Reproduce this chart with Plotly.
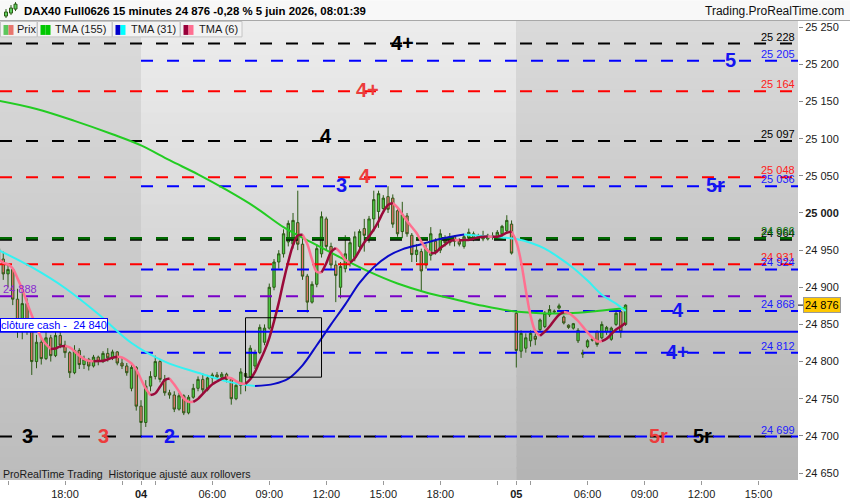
import pandas as pd
import plotly.graph_objects as go

# DAX40 Full0626, 15 minute bars. x = bar number:
# 0 = 3 June 14:30, 30 = 4 June 02:15 (first bar), 109 = 5 June 02:15
bar_open = [24952, 24938, 24918, 24924, 24884, 24846, 24878, 24842, 24800, 24826,
            24804, 24832, 24808, 24835, 24822, 24812, 24785, 24815, 24796, 24803,
            24794, 24806, 24800, 24811, 24805, 24813, 24798, 24794, 24764, 24792,
            24740, 24718, 24767, 24780, 24800, 24776, 24758, 24755, 24736, 24754,
            24731, 24752, 24764, 24776, 24762, 24778, 24782, 24779, 24783, 24776,
            24750, 24768, 24784, 24780, 24794, 24812, 24826, 24845, 24900, 24934,
            24945, 24961, 24958, 24987, 24958, 24915, 24880, 24904, 24945, 24992,
            24955, 24930, 24900, 24925, 24932, 24940, 24955, 24979, 24965, 24992,
            25002, 25006, 25022, 25020, 25003, 24975, 24996, 24970, 24944, 24948,
            24930, 24943, 24962, 24950, 24966, 24960, 24968, 24962, 24955, 24966,
            24972, 24966, 24968, 24965, 24969, 24967, 24972, 24976, 24985, 24865,
            24814, 24818, 24828, 24834, 24843, 24847, 24863, 24868, 24872, 24860,
            24849, 24845, 24828, 24812, 24820, 24830, 24840, 24832, 24840, 24830,
            24850, 24867, 24850]
bar_high = [24960, 24948, 24930, 24926, 24898, 24902, 24885, 24845, 24836, 24831,
            24840, 24836, 24840, 24840, 24828, 24814, 24822, 24818, 24808, 24805,
            24809, 24808, 24814, 24818, 24816, 24814, 24805, 24798, 24796, 24794,
            24748, 24775, 24787, 24808, 24802, 24782, 24762, 24760, 24758, 24756,
            24755, 24770, 24780, 24784, 24782, 24785, 24786, 24786, 24785, 24778,
            24772, 24791, 24788, 24822, 24816, 24850, 24850, 24905, 24938, 24950,
            24978, 24990, 25000, 25030, 24965, 24918, 24908, 24958, 25002, 24995,
            24960, 24936, 24934, 24970, 24966, 24975, 24978, 24992, 24996, 25030,
            25030, 25024, 25036, 25025, 25008, 25015, 25000, 24973, 24958, 24952,
            24958, 24981, 24966, 24978, 24970, 24973, 24970, 24966, 24972, 24979,
            24975, 24972, 24976, 24972, 24974, 24977, 24984, 24997, 24990, 24868,
            24842, 24838, 24842, 24838, 24858, 24868, 24876, 24870, 24878, 24862,
            24850, 24852, 24845, 24816, 24830, 24832, 24842, 24854, 24848, 24847,
            24868, 24868, 24877]
bar_low = [24932, 24910, 24900, 24876, 24832, 24830, 24836, 24782, 24791, 24796,
           24802, 24800, 24806, 24818, 24805, 24778, 24783, 24790, 24790, 24788,
           24792, 24795, 24798, 24800, 24802, 24795, 24790, 24781, 24760, 24734,
           24700, 24712, 24760, 24776, 24772, 24754, 24750, 24732, 24734, 24728,
           24729, 24750, 24760, 24756, 24760, 24770, 24776, 24774, 24772, 24742,
           24748, 24756, 24760, 24778, 24790, 24810, 24822, 24843, 24896, 24925,
           24940, 24955, 24952, 24950, 24910, 24866, 24878, 24900, 24940, 24950,
           24925, 24880, 24885, 24920, 24928, 24935, 24950, 24948, 24960, 24975,
           24980, 25000, 25000, 24980, 24968, 24966, 24968, 24934, 24934, 24894,
           24925, 24936, 24944, 24946, 24955, 24956, 24955, 24955, 24952, 24962,
           24962, 24963, 24962, 24963, 24964, 24965, 24968, 24972, 24944, 24792,
           24805, 24812, 24820, 24822, 24840, 24845, 24860, 24865, 24870, 24850,
           24844, 24843, 24825, 24805, 24818, 24827, 24820, 24830, 24836, 24828,
           24848, 24832, 24848]
bar_close = [24938, 24918, 24924, 24884, 24846, 24878, 24842, 24800, 24826, 24804,
             24832, 24808, 24835, 24822, 24812, 24785, 24815, 24796, 24803, 24794,
             24806, 24800, 24811, 24805, 24813, 24798, 24794, 24785, 24792, 24740,
             24718, 24767, 24780, 24800, 24776, 24758, 24755, 24736, 24754, 24731,
             24752, 24764, 24776, 24762, 24778, 24782, 24779, 24783, 24776, 24750,
             24768, 24786, 24780, 24818, 24812, 24846, 24845, 24900, 24934, 24945,
             24972, 24986, 24990, 24958, 24915, 24880, 24904, 24952, 24995, 24955,
             24930, 24916, 24928, 24945, 24960, 24968, 24975, 24970, 24992, 25018,
             25026, 25020, 25005, 24985, 24972, 24998, 24972, 24944, 24950, 24922,
             24952, 24972, 24948, 24972, 24960, 24968, 24962, 24958, 24968, 24974,
             24966, 24969, 24965, 24970, 24967, 24974, 24982, 24990, 24946, 24815,
             24838, 24832, 24838, 24830, 24856, 24865, 24870, 24867, 24875, 24852,
             24846, 24851, 24842, 24810, 24828, 24829, 24823, 24850, 24846, 24845,
             24865, 24840, 24876]
bar_x = list(range(len(bar_close)))

# moving averages at these bars
tma155_bar = [0, 8, 16, 24, 30, 36, 42, 48, 54, 60, 66, 72, 78, 84, 90, 96, 102,
              108, 114, 120, 126, 132]
tma155_val = [25151, 25140, 25124, 25106, 25091, 25071, 25052, 25031, 25008, 24981,
              24960, 24940, 24921, 24905, 24893, 24884, 24875, 24868, 24865, 24865,
              24868, 24872]
tma31_bar = [0, 7, 14, 21, 28, 35, 42, 49, 54, 58, 61, 64, 67, 70, 73, 76, 79, 82,
             85, 89, 93, 98, 102, 106, 109, 112, 115, 118, 121, 124, 127, 130, 132]
tma31_val = [24950, 24927, 24899, 24864, 24825, 24800, 24785, 24772, 24767, 24770,
             24777, 24795, 24822, 24850, 24877, 24906, 24927, 24942, 24951, 24958,
             24965, 24971, 24969, 24967, 24965, 24960, 24952, 24940, 24926, 24909,
             24890, 24878, 24868]

x_tick_bar = [2, 14, 26, 30, 33, 45, 57, 69, 81, 93, 105, 109, 112, 124, 136, 148, 160]
x_tick_text = ["", "18:00", "", "<b>04</b>", "", "06:00", "09:00", "12:00", "15:00",
               "18:00", "", "<b>05</b>", "", "06:00", "09:00", "12:00", "15:00"]
y_tick_val = [24650, 24700, 24750, 24800, 24850, 24900, 24950, 25000, 25050, 25100,
              25150, 25200, 25250]
y_tick_text = ["24 650", "24 700", "24 750", "24 800", "24 850", "24 900", "24 950",
               "<b>25 000</b>", "25 050", "25 100", "25 150", "25 200", "25 250"]

# horizontal levels
level_price = [25228, 25205, 25164, 25097, 25048, 25036, 24964, 24966, 24931, 24924,
               24888, 24868, 24840, 24812, 24699, 24699]
level_text = ["25 228", "25 205", "25 164", "25 097", "25 048", "25 036", "24 964",
              "24 966", "24 931", "24 924", "24 888", "24 868", "", "24 812", "", "24 699"]
level_kind = ["black", "blue", "red", "black", "red", "blue", "black", "green", "red",
              "blue", "purple", "blue", "cash", "blue", "black", "blue"]

# level names written on the chart
tag_text = ["4+", "5", "4+", "4", "4", "3", "5r", "4", "4+", "3", "3", "2", "5r", "5r"]
tag_price = [25228, 25205, 25164, 25097, 25048, 25036, 25036, 24868, 24812,
             24699, 24699, 24699, 24699, 24699]
tag_kind = ["black", "blue", "red", "black", "red", "blue", "blue", "blue", "blue",
            "black", "red", "blue", "red", "black"]
tag_bar = [85, 154, 77.6, 69, 77.2, 72.1, 151, 143, 143, 6, 22, 36.1, 139, 148.1]

last_price = 24876
cash_close = 24840
box_bars = [52, 68]
box_prices = [24779, 24859]

styles = {
    "black": dict(color="#000000", text="#000000", start=0, dash="12px,14px", width=2),
    "blue": dict(color="#0000ff", text="#1c1cff", start=30, dash="12px,14px", width=2),
    "red": dict(color="#ff0000", text="#ff2020", start=0, dash="12px,14px", width=2),
    "green": dict(color="#006a00", text="#0a7a0a", start=0, dash="12px,14px", width=2.5),
    "purple": dict(color="#7a00c8", text="#8a2ad0", start=0, dash="12px,14px", width=2),
    "cash": dict(color="#0000ff", text="#0000ff", start=0, dash="solid", width=2),
}
tag_colors = {"black": "#000000", "blue": "#1414f0", "red": "#ec3c3c"}

X_MIN, X_MAX = 0.316, 168.3
Y_MIN, Y_MAX = 24640.6, 25258.4
FONT = "Liberation Sans, Arial, sans-serif"


def fx(px):
    return px / 798.0


def fy(py):
    return (483.0 - py) / 462.0


def split_by_slope(xs, ys):
    # two runs of points: rising and falling parts
    out = {True: ([], []), False: ([], [])}
    prev = None
    for i in range(len(ys) - 1):
        up = ys[i + 1] >= ys[i]
        px_, py_ = out[up]
        if prev != up:
            if px_:
                px_.append(None)
                py_.append(None)
            px_.append(xs[i])
            py_.append(ys[i])
        px_.append(xs[i + 1])
        py_.append(ys[i + 1])
        prev = up
    return out


fig = go.Figure()

fig.add_trace(go.Candlestick(
    x=bar_x, open=bar_open, high=bar_high, low=bar_low, close=bar_close,
    increasing=dict(line=dict(color="#2c5a16", width=1), fillcolor="#4ccc44"),
    decreasing=dict(line=dict(color="#2c5a16", width=1), fillcolor="#e8756d"),
    whiskerwidth=0, hoverinfo="skip", showlegend=False))

for price, kind in zip(level_price, level_kind):
    st = styles[kind]
    x0 = X_MIN if st["start"] == 0 else st["start"]
    fig.add_trace(go.Scatter(
        x=[x0, X_MAX + 2], y=[price, price], mode="lines",
        line=dict(color=st["color"], width=st["width"], dash=st["dash"]),
        hoverinfo="skip", showlegend=False))

fig.add_trace(go.Scatter(x=tma155_bar, y=tma155_val, mode="lines",
                         line=dict(color="#22cc22", width=2, shape="spline"),
                         hoverinfo="skip", showlegend=False))

runs = split_by_slope(tma31_bar, tma31_val)
fig.add_trace(go.Scatter(x=runs[False][0], y=runs[False][1], mode="lines",
                         line=dict(color="#33f2f2", width=2, shape="spline"),
                         hoverinfo="skip", showlegend=False))
fig.add_trace(go.Scatter(x=runs[True][0], y=runs[True][1], mode="lines",
                         line=dict(color="#0a0ac8", width=2, shape="spline"),
                         hoverinfo="skip", showlegend=False))

# TMA(6) = SMA(SMA(close, 3), 4)
tma6 = pd.Series(bar_close, dtype=float).rolling(3, min_periods=1).mean()
tma6 = tma6.rolling(4, min_periods=1).mean().round(1).tolist()
runs = split_by_slope(bar_x, tma6)
fig.add_trace(go.Scatter(x=runs[False][0], y=runs[False][1], mode="lines",
                         line=dict(color="#ff7090", width=2.5, shape="spline"),
                         hoverinfo="skip", showlegend=False))
fig.add_trace(go.Scatter(x=runs[True][0], y=runs[True][1], mode="lines",
                         line=dict(color="#9a0a3a", width=2.5, shape="spline"),
                         hoverinfo="skip", showlegend=False))

shapes = []


def bands(x0, x1, top, bottom, n=40):
    for k in range(n):
        t = (k + 0.5) / n
        c = [round(b + (tp - b) * t) for tp, b in zip(top, bottom)]
        shapes.append(dict(type="rect", xref="x", yref="paper", x0=x0, x1=x1,
                           y0=k / n, y1=(k + 1) / n + 0.003,
                           fillcolor="rgb(%d,%d,%d)" % tuple(c),
                           line=dict(width=0), layer="below"))


bands(-2, 30, (219, 219, 219), (188, 188, 188))
bands(30, 109, (237, 237, 237), (192, 192, 192))
bands(109, 175, (218, 218, 218), (180, 180, 180))

# opening box
shapes.append(dict(type="rect", xref="x", yref="y", x0=box_bars[0], x1=box_bars[1],
                   y0=box_prices[0], y1=box_prices[1],
                   line=dict(color="#000000", width=1)))

# title bar
shapes.append(dict(type="rect", xref="paper", yref="paper", x0=fx(0), x1=fx(850),
                   y0=fy(20.5), y1=fy(0), fillcolor="#f8f8f8", line=dict(width=0)))
shapes.append(dict(type="line", xref="paper", yref="paper", x0=fx(0), x1=fx(850),
                   y0=fy(20.5), y1=fy(20.5), line=dict(color="#a8a8a8", width=1)))
# icon in the title bar
for cx, w0, w1, b0, b1 in [(6, 9, 18, 12, 16), (11, 5, 15, 8, 13), (15.5, 2, 11, 4, 9)]:
    shapes.append(dict(type="line", xref="paper", yref="paper", x0=fx(cx), x1=fx(cx),
                       y0=fy(w1), y1=fy(w0), line=dict(color="#2c5a16", width=1)))
    shapes.append(dict(type="rect", xref="paper", yref="paper", x0=fx(cx - 1.5),
                       x1=fx(cx + 1.5), y0=fy(b1), y1=fy(b0), fillcolor="#5fd05f",
                       line=dict(color="#2c5a16", width=1)))

# legend boxes
legend_items = [("Prix", 0, 37, ("#5cc65c", "#e8756d"), 15.5),
                ("TMA (155)", 37, 112, ("#00c800", "#00c800"), 54),
                ("TMA (31)", 112, 180, ("#0000cc", "#00ffff"), 130),
                ("TMA (6)", 180, 242, ("#99003a", "#ff6f91"), 198)]
annotations = []
for name, bx0, bx1, cols, tx in legend_items:
    shapes.append(dict(type="rect", xref="paper", yref="paper", x0=fx(bx0 + 0.5),
                       x1=fx(bx1), y0=fy(37), y1=fy(21.5), fillcolor="#f3f3f3",
                       line=dict(color="#c4c4c4", width=1)))
    ix = bx0 + 3.5
    shapes.append(dict(type="rect", xref="paper", yref="paper", x0=fx(ix), x1=fx(ix + 5),
                       y0=fy(35), y1=fy(25), fillcolor=cols[0], line=dict(width=0)))
    shapes.append(dict(type="rect", xref="paper", yref="paper", x0=fx(ix + 5),
                       x1=fx(ix + 10), y0=fy(35), y1=fy(25), fillcolor=cols[1],
                       line=dict(width=0)))
    annotations.append(dict(xref="paper", yref="paper", x=fx(tx - 1), y=fy(29.5),
                            xanchor="left", yanchor="middle", text=name, showarrow=False,
                            font=dict(family=FONT, size=11, color="#1a1a1a")))

# current price marker
shapes.append(dict(type="line", xref="paper", yref="y", x0=fx(798), x1=fx(803),
                   y0=last_price, y1=last_price, line=dict(color="#000000", width=1)))

annotations.append(dict(xref="paper", yref="paper", x=fx(22), y=fy(10.5),
                        xanchor="left", yanchor="middle", showarrow=False,
                        text="<b>DAX40 Full0626 15 minutes 24 876 -0,28 % 5 juin 2026, 08:01:39</b>",
                        font=dict(family=FONT, size=11.4, color="#000000")))
annotations.append(dict(xref="paper", yref="paper", x=fx(846), y=fy(10.5),
                        xanchor="right", yanchor="middle", showarrow=False,
                        text="Trading.ProRealTime.com",
                        font=dict(family=FONT, size=12, color="#111111")))
annotations.append(dict(xref="paper", yref="paper", x=fx(1), y=fy(477),
                        xanchor="left", yanchor="middle", showarrow=False,
                        text="ProRealTime Trading&nbsp; Historique ajusté aux rollovers",
                        font=dict(family=FONT, size=10.6, color="#1a1a1a")))

for price, text, kind in zip(level_price, level_text, level_kind):
    if not text:
        continue
    st = styles[kind]
    left = kind == "purple"
    annotations.append(dict(xref="paper", yref="y", x=fx(2) if left else fx(796),
                            y=price, xanchor="left" if left else "right",
                            yanchor="bottom", showarrow=False, text=text, borderpad=0,
                            font=dict(family=FONT, size=11, color=st["text"])))

annotations.append(dict(xref="paper", yref="y", x=0, y=cash_close, xanchor="left",
                        yanchor="bottom", showarrow=False, borderpad=0,
                        text="clôture cash -&nbsp; 24 840", bgcolor="#ffffff",
                        bordercolor="#0000ff", borderwidth=1,
                        font=dict(family=FONT, size=11, color="#0000ff")))

annotations.append(dict(xref="paper", yref="y", x=fx(803), y=last_price,
                        xanchor="left", yanchor="middle", showarrow=False, borderpad=1,
                        text="24 876", bgcolor="#ffc800", bordercolor="#9a9a9a",
                        borderwidth=1, font=dict(family=FONT, size=11, color="#000000")))

for text, price, kind, bar in zip(tag_text, tag_price, tag_kind, tag_bar):
    shift = 5 if (text == "4" and kind == "black") else 1
    annotations.append(dict(xref="x", yref="y", x=bar, y=price, xanchor="center",
                            yanchor="middle", yshift=shift, showarrow=False,
                            text="<b>%s</b>" % text,
                            font=dict(family=FONT, size=20, color=tag_colors[kind])))

fig.update_layout(
    width=850, height=500,
    margin=dict(l=0, r=52, t=21, b=17),
    paper_bgcolor="#ffffff", plot_bgcolor="#d0d0d0",
    showlegend=False,
    font=dict(family=FONT, size=11, color="#1a1a1a"),
    shapes=shapes, annotations=annotations,
    xaxis=dict(range=[X_MIN, X_MAX], tickmode="array", tickvals=x_tick_bar,
               ticktext=x_tick_text, ticks="outside", ticklen=4, tickcolor="#9a9a9a",
               showgrid=False, zeroline=False, showline=False,
               rangeslider=dict(visible=False), tickfont=dict(size=11)),
    yaxis=dict(range=[Y_MIN, Y_MAX], side="right", tickmode="array",
               tickvals=y_tick_val, ticktext=y_tick_text, ticks="outside", ticklen=4,
               tickcolor="#8a8a8a", showgrid=False, zeroline=False, showline=False,
               tickfont=dict(size=11)),
)

fig.write_html("out.html", config={"displayModeBar": False},
               post_script="document.body.style.margin='0';document.body.style.padding='0';")
